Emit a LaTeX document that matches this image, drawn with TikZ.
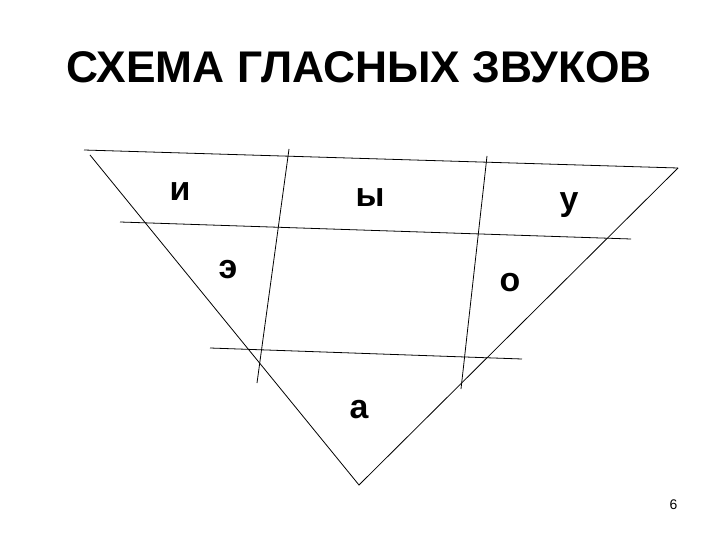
\documentclass[tikz,border=0pt]{standalone}
\usepackage{fontspec}
\setmainfont{Liberation Sans}

\def\topline{(84,150) -- (678,168)}
\def\midline{(120,222) -- (631,239)}
\def\lowline{(210,348) -- (522,359)}
\tikzset{scheme/.style={draw=black, line width=0.8pt},
    vowel/.style={anchor=base, font=\bfseries\fontsize{34}{34}\selectfont},
    heading/.style={anchor=base, font=\bfseries\fontsize{44.5}{44.5}\selectfont}}

\begin{document}
\begin{tikzpicture}[x=1bp, y=-1bp]
     \useasboundingbox (0,0) rectangle (720,540);
     \coordinate (apex) at (359,485);
     \coordinate (tl) at (90,155);
     \coordinate (tr) at (678,168);
     % triangle
     \draw[scheme] (tl) -- (apex) -- (tr);
     \draw[scheme] \topline;
     \draw[scheme] \midline;
     \draw[scheme] \lowline;
     \draw[scheme] (289,149) -- (257,383);
     \draw[scheme] (487,156) -- (461,389);
     % vowels
     \node[vowel] (i)  at (180,201) {и};
     \node[vowel] (y)  at (370,207) {ы};
     \node[vowel] (u)  at (569,211) {у};
     \node[vowel] (e)  at (228,279) {э};
     \node[vowel] (o)  at (510,291) {о};
     \node[vowel] (a)  at (359,418) {а};
     \node[heading] (title) at (359,83) {СХЕМА ГЛАСНЫХ ЗВУКОВ};
     \node[anchor=base, font=\fontsize{14}{14}\selectfont] (page) at (673.5,509) {6};
 \end{tikzpicture}
\end{document}
